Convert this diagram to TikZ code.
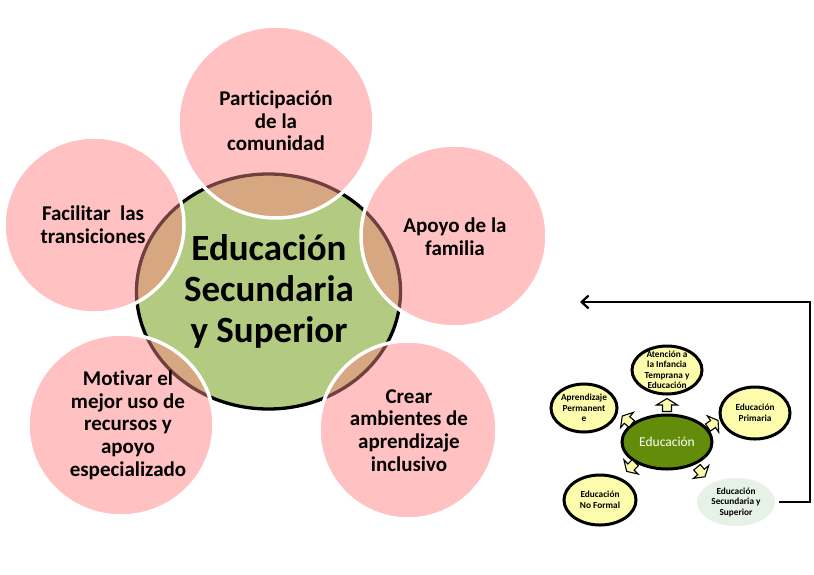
\documentclass[tikz,border=0pt]{standalone}
\usepackage{fontspec}
\setmainfont[Ligatures=NoCommon]{Carlito}
\usetikzlibrary{arrows.meta,shapes.geometric}
\definecolor{pinkc}{RGB}{255,193,193}
\definecolor{tanc}{RGB}{214,167,128}
\definecolor{greenc}{RGB}{178,203,128}
\definecolor{ringc}{RGB}{112,64,64}
\definecolor{dgreen}{RGB}{98,140,10}
\definecolor{yell}{RGB}{252,252,172}
\definecolor{paleg}{RGB}{229,242,229}
\tikzset{
  lbl/.style={align=center, inner sep=0pt, font=\fontsize{21}{22.7}\selectfont\bfseries},
  ctrlbl/.style={align=center, inner sep=0pt, font=\fontsize{37}{41}\selectfont\bfseries},
  yel/.style={ellipse, draw=black, line width=3pt, fill=yell, inner sep=0pt},
  smlbl/.style={align=center, inner sep=0pt, font=\fontsize{9.3}{10.5}\selectfont\bfseries},
  barrow/.pic={\draw[fill=yell, line width=1.1pt, line join=miter]
     (-6.5,-4.5) -- (0,-4.5) -- (0,-10.5) -- (6.5,0) -- (0,10.5) -- (0,4.5) -- (-6.5,4.5) -- cycle;}
}
\begin{document}
\begin{tikzpicture}[x=1pt,y=-1pt]
\useasboundingbox (0,0) rectangle (814,574);
\fill[white] (0,0) rectangle (814,574);
% ---------- main diagram ----------
\fill[greenc] (268.5,291.5) ellipse [x radius=132, y radius=117.5];
\draw[black, line width=3.3pt] (268.5,291.5) ellipse [x radius=132, y radius=117.5];
\foreach \cx/\cy/\rx/\ry in {276/122/98/96, 94/225/90/88, 454/236/93/91, 121/425/93/91, 408/430/89/89}
  \fill[pinkc] (\cx,\cy) ellipse [x radius=\rx, y radius=\ry];
\begin{scope}
  \clip (268.5,291.5) ellipse [x radius=132, y radius=117.5];
  \foreach \cx/\cy/\rx/\ry in {276/122/98/96, 94/225/90/88, 454/236/93/91, 121/425/93/91, 408/430/89/89}
    \fill[tanc] (\cx,\cy) ellipse [x radius=\rx, y radius=\ry];
\end{scope}
\begin{scope}
  \clip (276,122) ellipse [x radius=98, y radius=96] (94,225) ellipse [x radius=90, y radius=88]
        (454,236) ellipse [x radius=93, y radius=91] (121,425) ellipse [x radius=93, y radius=91]
        (408,430) ellipse [x radius=89, y radius=89];
  \draw[ringc, line width=3.3pt] (268.5,291.5) ellipse [x radius=132, y radius=117.5];
\end{scope}
\foreach \cx/\cy/\rx/\ry in {276/122/98/96, 94/225/90/88, 454/236/93/91, 121/425/93/91, 408/430/89/89}
  \draw[white, line width=3.5pt] (\cx,\cy) ellipse [x radius=\rx, y radius=\ry];
\node[lbl] (t1) at (276,121) {Participación\\de la\\comunidad};
\node[lbl] (t2) at (93,225) {Facilitar\ \ las\\transiciones};
\node[lbl] (t3) at (455,236.5) {Apoyo de la\\familia};
\node[lbl] (t4) at (128,425) {Motivar el\\mejor uso de\\recursos y\\apoyo\\especializado};
\node[lbl] (t5) at (409,430.5) {Crear\\ambientes de\\aprendizaje\\inclusivo};
\node[ctrlbl] (t0) at (269,291) {Educación\\Secundaria\\y Superior};
% ---------- small diagram ----------
\node[yel, minimum width=70pt, minimum height=48pt] (atn) at (667,370) {};
\node[smlbl] (atnT) at (atn) {Atención a\\la Infancia\\Temprana y\\Educación};
\node[yel, minimum width=66pt, minimum height=48pt] (apr) at (584,408) {};
\node[smlbl] (aprT) at (apr) {Aprendizaje\\Permanent\\e};
\node[yel, minimum width=70pt, minimum height=52pt] (pri) at (755,413) {};
\node[smlbl] (priT) at (pri) {Educación\\Primaria};
\node[yel, minimum width=72pt, minimum height=50pt] (nof) at (600,500) {};
\node[smlbl] (nofT) at (nof) {Educación\\No Formal};
\node[ellipse, fill=paleg, inner sep=0pt, minimum width=78pt, minimum height=48pt] (sec) at (736,502) {};
\node[smlbl] (secT) at (sec) {Educación\\Secundaria y\\Superior};
\node[ellipse, draw=black, line width=3pt, fill=dgreen, inner sep=0pt, minimum width=90pt, minimum height=54pt] (edu) at (667,442) {};
\node[inner sep=0pt, text=white, font=\fontsize{13.5}{15}\selectfont] (eduT) at (edu) {Educación};
\pic[rotate=90] at (667,405) {barrow};
\pic[rotate=140, scale=0.95] at (627,420) {barrow};
\pic[rotate=35, scale=0.95] at (713,424) {barrow};
\pic[rotate=-135, scale=0.95] at (631,467) {barrow};
\pic[rotate=-50, scale=0.95] at (701,472) {barrow};
\coordinate (corner) at (810,302);
\coordinate (tip) at (580,302);
\draw[line width=2.2pt, shorten <=4pt, -{Straight Barb[length=7pt,width=13pt]}] (sec.east) -| (corner) -- (tip);
\end{tikzpicture}
\end{document}
